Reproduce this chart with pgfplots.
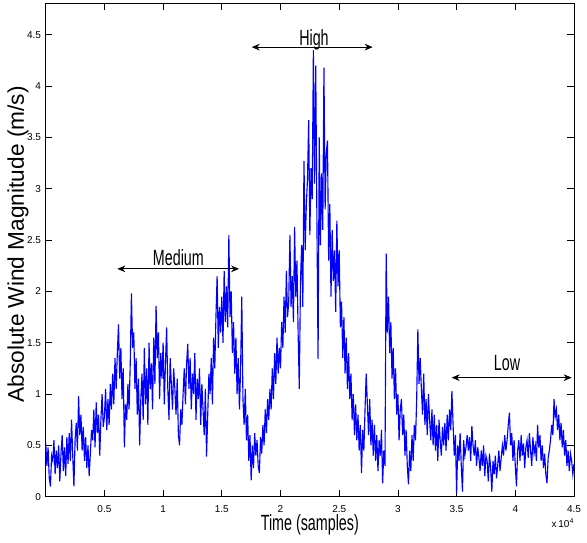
\documentclass[border=0pt]{standalone}
\usepackage{fontspec}
\setmainfont{Liberation Sans}
\usepackage{pgfplots}
\usepackage{pgfplotstable}
\pgfplotsset{compat=1.18}
\usetikzlibrary{arrows.meta}

% wind magnitude, one value every 100 samples (0 ... 45000)
\pgfplotstableread[row sep=\\,header=false]{
0.52\\0.30\\0.48\\0.18\\0.10\\0.40\\0.35\\0.55\\0.22\\0.45\\
0.28\\0.50\\0.15\\0.42\\0.60\\0.25\\0.48\\0.20\\0.58\\0.32\\
0.62\\0.35\\0.75\\0.40\\0.10\\0.55\\0.72\\0.45\\0.98\\0.60\\
0.80\\0.45\\0.68\\0.35\\0.58\\0.28\\0.50\\0.20\\0.42\\0.65\\
0.55\\0.85\\0.48\\0.92\\0.62\\0.80\\0.40\\0.75\\1.00\\0.68\\
0.78\\1.05\\0.65\\0.95\\0.70\\1.10\\0.85\\1.20\\0.90\\1.35\\
1.05\\1.40\\1.68\\1.15\\1.45\\0.95\\1.25\\0.48\\0.90\\0.75\\
1.10\\0.85\\1.30\\1.98\\1.45\\1.60\\1.05\\1.35\\0.80\\1.15\\
0.50\\0.95\\1.20\\0.75\\1.45\\0.90\\1.25\\0.70\\1.50\\1.05\\
1.30\\0.85\\1.55\\1.10\\1.86\\1.35\\1.60\\0.95\\1.40\\1.15\\
1.50\\0.90\\1.30\\1.65\\1.05\\0.75\\1.35\\1.10\\0.85\\1.25\\
1.05\\0.80\\1.15\\0.60\\0.50\\0.85\\0.70\\1.00\\1.25\\0.90\\
1.30\\1.49\\1.05\\1.35\\0.85\\1.20\\1.00\\1.40\\0.75\\1.15\\
0.95\\1.25\\0.70\\1.10\\0.85\\0.60\\1.05\\0.39\\0.80\\1.20\\
1.00\\1.35\\0.90\\1.55\\1.25\\1.75\\2.15\\1.45\\1.85\\1.60\\
1.95\\1.50\\2.20\\1.70\\2.05\\1.65\\2.55\\1.75\\2.00\\1.40\\
1.70\\1.20\\1.55\\1.00\\1.35\\0.85\\1.25\\1.95\\0.95\\0.70\\
1.05\\0.55\\0.80\\0.35\\0.60\\0.16\\0.50\\0.28\\0.62\\0.40\\
0.55\\0.30\\0.23\\0.58\\0.42\\0.70\\0.50\\0.85\\0.62\\0.95\\
0.75\\1.05\\0.85\\1.25\\0.95\\1.40\\1.10\\1.55\\1.20\\1.45\\
1.25\\1.70\\1.45\\1.95\\1.60\\2.20\\1.75\\1.90\\2.55\\1.85\\
2.15\\1.70\\2.63\\1.95\\2.30\\1.60\\1.05\\2.10\\2.45\\1.85\\
3.27\\2.40\\2.85\\3.10\\3.67\\2.55\\3.20\\2.90\\4.35\\3.05\\
4.20\\2.70\\1.34\\3.50\\2.45\\3.15\\2.60\\4.18\\2.80\\3.35\\
3.47\\2.30\\2.85\\1.95\\2.60\\2.10\\2.40\\1.80\\2.69\\2.05\\
2.40\\1.65\\1.90\\1.35\\1.75\\1.20\\1.55\\1.05\\1.40\\0.95\\
1.20\\0.75\\1.00\\0.60\\0.90\\0.55\\0.80\\0.45\\0.70\\0.23\\
0.65\\0.45\\0.85\\1.20\\0.90\\0.60\\0.95\\0.50\\0.75\\0.40\\
0.70\\0.35\\0.60\\0.25\\0.55\\0.40\\0.65\\0.13\\0.45\\0.30\\
2.37\\1.60\\1.95\\1.40\\1.70\\1.15\\1.45\\0.95\\1.25\\0.80\\
1.00\\0.55\\0.85\\0.95\\0.60\\0.80\\0.40\\0.65\\0.30\\0.12\\
0.45\\0.25\\0.60\\0.35\\0.70\\0.55\\0.95\\1.63\\1.10\\1.35\\
1.05\\0.80\\1.20\\0.70\\0.95\\0.60\\1.00\\0.75\\0.55\\0.85\\
0.50\\0.80\\0.45\\0.70\\0.35\\0.75\\0.55\\0.40\\0.68\\0.50\\
0.72\\0.45\\0.80\\0.55\\0.85\\0.65\\1.03\\0.70\\0.40\\0.60\\
0.03\\0.50\\0.35\\0.62\\0.30\\0.05\\0.55\\0.40\\0.48\\0.60\\
0.45\\0.58\\0.35\\0.69\\0.50\\0.40\\0.55\\0.30\\0.48\\0.38\\
0.25\\0.45\\0.30\\0.50\\0.20\\0.40\\0.35\\0.15\\0.42\\0.28\\
0.05\\0.35\\0.22\\0.40\\0.18\\0.30\\0.45\\0.25\\0.38\\0.50\\
0.40\\0.60\\0.45\\0.55\\0.70\\0.82\\0.50\\0.62\\0.35\\0.55\\
0.30\\0.10\\0.45\\0.55\\0.35\\0.60\\0.40\\0.52\\0.28\\0.48\\
0.55\\0.38\\0.62\\0.45\\0.30\\0.58\\0.42\\0.50\\0.35\\0.70\\
0.48\\0.60\\0.35\\0.50\\0.28\\0.42\\0.22\\0.13\\0.38\\0.45\\
0.55\\0.70\\0.60\\0.95\\0.78\\0.85\\0.65\\0.80\\0.55\\0.72\\
0.48\\0.65\\0.40\\0.55\\0.30\\0.45\\0.25\\0.42\\0.35\\0.22\\0.32\\
}\winddata

\begin{document}
\begin{tikzpicture}
\begin{axis}[
  scale only axis,width=396.2pt,height=370.3pt,
  xmin=0,xmax=450,ymin=0,ymax=4.81,clip=false,
  xtick={50,100,...,450},
  xticklabels={0.5,1,1.5,2,2.5,3,3.5,4,4.5},
  ytick={0,0.5,...,4.5},
  yticklabels={0,0.5,1,1.5,2,2.5,3,3.5,4,4.5},
  tick align=inside,tick pos=both,major tick length=5pt,
  axis line style={line width=0.5pt},
  tick style={line width=0.5pt,black},
  tick label style={font=\fontsize{7.5}{9}\selectfont},
  xticklabel style={yshift=-3pt},
  /pgf/number format/assume math mode=true,
  every axis x label/.style={at={(axis description cs:0.5,-0.057)},anchor=center,
    font=\fontsize{16.5}{18}\selectfont,xscale=0.65},
  every axis y label/.style={at={(axis description cs:-0.0524,0.511)},anchor=center,
    rotate=90,font=\fontsize{17}{19}\selectfont},
  xlabel={Time (samples)},
  ylabel={Absolute Wind Magnitude (m/s)},
]
\addplot[blue,line width=0.85pt,mark=none] table[x expr=\coordindex,y index=0] {\winddata};

\draw[{Stealth[length=6pt,width=5pt]}-{Stealth[length=6pt,width=5pt]},line width=0.6pt]
  (axis cs:61,2.22) -- (axis cs:164.7,2.22);
\node[anchor=base,font=\fontsize{16.5}{18}\selectfont,xscale=0.65] at (axis cs:113,2.25) {Medium};
\draw[{Stealth[length=6pt,width=5pt]}-{Stealth[length=6pt,width=5pt]},line width=0.6pt]
  (axis cs:175.5,4.38) -- (axis cs:278.5,4.38);
\node[anchor=base,font=\fontsize{16.5}{18}\selectfont,xscale=0.65] at (axis cs:228.5,4.40) {High};
\draw[{Stealth[length=6pt,width=5pt]}-{Stealth[length=6pt,width=5pt]},line width=0.6pt]
  (axis cs:345.8,1.16) -- (axis cs:448,1.16);
\node[anchor=base,font=\fontsize{16.5}{18}\selectfont,xscale=0.65] at (axis cs:393,1.23) {Low};

\node[font=\fontsize{7.5}{9}\selectfont] at (rel axis cs:0.979,-0.053) {x\,10\textsuperscript{4}};
\end{axis}
\pgfresetboundingbox
\useasboundingbox (-34.3pt,-34pt) rectangle (405.95pt,372.55pt);
\end{tikzpicture}
\end{document}
